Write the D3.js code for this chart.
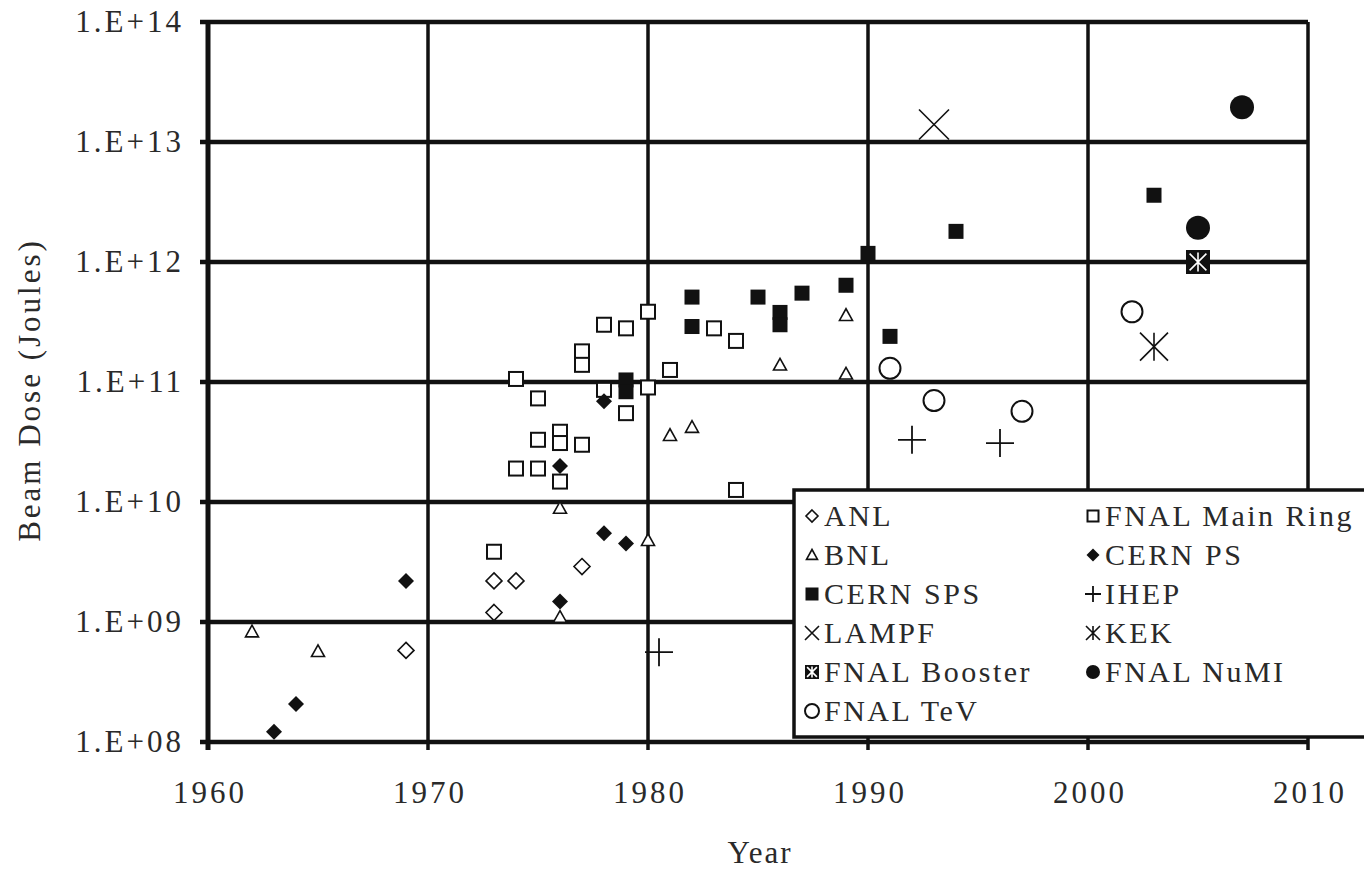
<!DOCTYPE html>
<html>
<head>
<meta charset="utf-8">
<script src="https://cdn.jsdelivr.net/npm/d3@7"></script>
<style>
  html, body { margin: 0; padding: 0; background: #fff; }
  svg text { font-family: "Liberation Serif", "Times New Roman", serif; fill: #2a2a2a; }
</style>
</head>
<body>
<svg id="chart" width="1364" height="870"></svg>
<script>
// Beam dose delivered by proton accelerators, by year of operation
const anl = [[1969, 5.8e8], [1973, 2.2e9], [1973, 1.2e9], [1974, 2.2e9], [1977, 2.9e9]];
const bnl = [[1962, 8.3e8], [1965, 5.7e8], [1976, 8.9e9], [1976, 1.1e9], [1980, 4.8e9],
             [1981, 3.6e10], [1982, 4.2e10], [1986, 1.39e11], [1989, 3.6e11], [1989, 1.17e11]];
const cernSps = [[1979, 1.04e11], [1979, 8.3e10], [1982, 5.1e11], [1982, 2.9e11], [1985, 5.1e11],
                 [1986, 3.8e11], [1986, 3.0e11], [1987, 5.5e11], [1989, 6.4e11], [1990, 1.18e12],
                 [1991, 2.4e11], [1994, 1.8e12], [2003, 3.6e12]];
const lampf = [[1993, 1.4e13]];
const fnalBooster = [[2005, 1.0e12]];
const fnalTev = [[1991, 1.3e11], [1993, 7.0e10], [1997, 5.7e10], [2002, 3.85e11]];
const fnalMainRing = [[1973, 3.85e9], [1974, 1.06e11], [1974, 1.9e10], [1975, 7.3e10], [1975, 3.3e10],
                      [1975, 1.9e10], [1976, 3.85e10], [1976, 3.1e10], [1976, 1.48e10], [1977, 1.8e11],
                      [1977, 1.39e11], [1977, 3.0e10], [1978, 3.0e11], [1978, 8.6e10], [1979, 2.8e11],
                      [1979, 5.5e10], [1980, 3.85e11], [1980, 9.0e10], [1981, 1.26e11], [1983, 2.8e11],
                      [1984, 2.2e11], [1984, 1.26e10]];
const cernPs = [[1963, 1.22e8], [1964, 2.07e8], [1969, 2.2e9], [1976, 1.48e9], [1976, 2.0e10],
                [1978, 5.5e9], [1978, 6.9e10], [1979, 4.5e9]];
const ihep = [[1980.5, 5.6e8], [1992, 3.3e10], [1996, 3.1e10]];
const kek = [[2003, 1.97e11]];
const fnalNumi = [[2005, 1.93e12], [2007, 1.95e13]];

const yearTicks = [1960, 1970, 1980, 1990, 2000, 2010];
const doseTicks = [1e8, 1e9, 1e10, 1e11, 1e12, 1e13, 1e14];

const svg = d3.select("#chart");
const plotLeft = 208, plotRight = 1308, plotTop = 22, plotBottom = 742;

const x = d3.scaleLinear().domain([1960, 2010]).range([plotLeft, plotRight]);
const y = d3.scaleLog().domain([1e8, 1e14]).range([plotBottom, plotTop]);

// grid
const grid = svg.append("g");
grid.selectAll("line.h").data(doseTicks).join("line").attr("class", "h")
  .attr("x1", plotLeft - 8).attr("x2", plotRight)
  .attr("y1", d => y(d)).attr("y2", d => y(d))
  .attr("stroke", "#111").attr("stroke-width", 4.5);
grid.selectAll("line.v").data(yearTicks).join("line").attr("class", "v")
  .attr("x1", d => x(d)).attr("x2", d => x(d))
  .attr("y1", plotTop).attr("y2", plotBottom + 8)
  .attr("stroke", "#111").attr("stroke-width", d => d === 1960 ? 5 : 3.5);

// axes (labels only; lines drawn above)
const fmtDose = d => "1.E+" + String(Math.round(Math.log10(d))).padStart(2, "0");
const yAxis = svg.append("g").attr("transform", `translate(${plotLeft},0)`)
  .call(d3.axisLeft(y).tickValues(doseTicks).tickFormat(fmtDose).tickSize(0).tickPadding(24));
const xAxis = svg.append("g").attr("transform", `translate(0,${plotBottom})`)
  .call(d3.axisBottom(x).tickValues(yearTicks).tickFormat(d3.format("d")).tickSize(0).tickPadding(39));
[yAxis, xAxis].forEach(a => {
  a.select(".domain").remove();
  a.selectAll("text").attr("font-size", 31).attr("letter-spacing", 3)
    .style("font-family", '"Liberation Serif", serif').attr("fill", "#2a2a2a");
});
xAxis.selectAll("text").attr("dx", 1.5);

svg.append("text").attr("x", 760).attr("y", 863).attr("text-anchor", "middle")
  .attr("font-size", 31).attr("letter-spacing", 2).text("Year");
svg.append("text").attr("transform", "translate(40,390) rotate(-90)").attr("text-anchor", "middle")
  .attr("font-size", 31).attr("letter-spacing", 3).text("Beam Dose (Joules)");

// marker painters
function drawMarker(g, type, s) {
  const h = s / 2;
  switch (type) {
    case "openDiamond":
      g.append("path").attr("d", `M0,${-h}L${h},0L0,${h}L${-h},0Z`)
        .attr("fill", "#fff").attr("stroke", "#111").attr("stroke-width", 1.6); break;
    case "openTriangle":
      g.append("path").attr("d", `M0,${-h}L${h},${h * 0.8}L${-h},${h * 0.8}Z`)
        .attr("fill", "#fff").attr("stroke", "#111").attr("stroke-width", 1.6); break;
    case "openSquare":
      g.append("rect").attr("x", -h).attr("y", -h).attr("width", s).attr("height", s)
        .attr("fill", "#fff").attr("stroke", "#111").attr("stroke-width", 2); break;
    case "filledDiamond":
      g.append("path").attr("d", `M0,${-h}L${h},0L0,${h}L${-h},0Z`).attr("fill", "#111"); break;
    case "filledSquare":
      g.append("rect").attr("x", -h).attr("y", -h).attr("width", s).attr("height", s).attr("fill", "#111"); break;
    case "plus":
      g.append("path").attr("d", `M${-h},0H${h}M0,${-h}V${h}`)
        .attr("stroke", "#111").attr("stroke-width", 1.8).attr("fill", "none"); break;
    case "cross":
      g.append("path").attr("d", `M${-h},${-h}L${h},${h}M${h},${-h}L${-h},${h}`)
        .attr("stroke", "#111").attr("stroke-width", 1.6).attr("fill", "none"); break;
    case "star":
      g.append("path").attr("d", `M${-h},${-h}L${h},${h}M${h},${-h}L${-h},${h}M0,${-h}V${h}`)
        .attr("stroke", "#111").attr("stroke-width", 1.6).attr("fill", "none"); break;
    case "boxCross":
      g.append("rect").attr("x", -h).attr("y", -h).attr("width", s).attr("height", s).attr("fill", "#111");
      g.append("path").attr("d", `M${-h * 0.7},${-h * 0.7}L${h * 0.7},${h * 0.7}M${h * 0.7},${-h * 0.7}L${-h * 0.7},${h * 0.7}M0,${-h * 0.8}V${h * 0.8}`)
        .attr("stroke", "#fff").attr("stroke-width", 1.6); break;
    case "filledCircle":
      g.append("circle").attr("r", h).attr("fill", "#111"); break;
    case "openCircle":
      g.append("circle").attr("r", h).attr("fill", "#fff").attr("stroke", "#111").attr("stroke-width", 2); break;
  }
}

const series = [
  { name: "ANL", data: anl, type: "openDiamond", size: 16, legend: 12 },
  { name: "FNAL Main Ring", data: fnalMainRing, type: "openSquare", size: 14, legend: 11 },
  { name: "BNL", data: bnl, type: "openTriangle", size: 13, legend: 11 },
  { name: "CERN PS", data: cernPs, type: "filledDiamond", size: 16, legend: 13 },
  { name: "CERN SPS", data: cernSps, type: "filledSquare", size: 15, legend: 13 },
  { name: "IHEP", data: ihep, type: "plus", size: 28, legend: 16 },
  { name: "LAMPF", data: lampf, type: "cross", size: 30, legend: 14 },
  { name: "KEK", data: kek, type: "star", size: 28, legend: 14 },
  { name: "FNAL Booster", data: fnalBooster, type: "boxCross", size: 24, legend: 14 },
  { name: "FNAL NuMI", data: fnalNumi, type: "filledCircle", size: 24, legend: 14 },
  { name: "FNAL TeV", data: fnalTev, type: "openCircle", size: 21, legend: 14 }
];

// points
const pts = svg.append("g");
series.forEach(s => {
  s.data.forEach(d => {
    const g = pts.append("g").attr("transform", `translate(${x(d[0])},${y(d[1])})`);
    drawMarker(g, s.type, s.size);
  });
});

// legend
const lg = svg.append("g");
lg.append("rect").attr("x", 794).attr("y", 490).attr("width", 600).attr("height", 247)
  .attr("fill", "#fff").attr("stroke", "#111").attr("stroke-width", 3.5);
series.forEach((s, i) => {
  const col = i % 2, row = Math.floor(i / 2);
  const gx = col === 0 ? 812 : 1093;
  const gy = 516 + row * 39;
  const g = lg.append("g").attr("transform", `translate(${gx},${gy})`);
  drawMarker(g, s.type, s.legend);
  lg.append("text").attr("x", gx + 12).attr("y", gy + 10)
    .attr("font-size", 30).attr("letter-spacing", 2.5).text(s.name);
});
</script>
</body>
</html>
